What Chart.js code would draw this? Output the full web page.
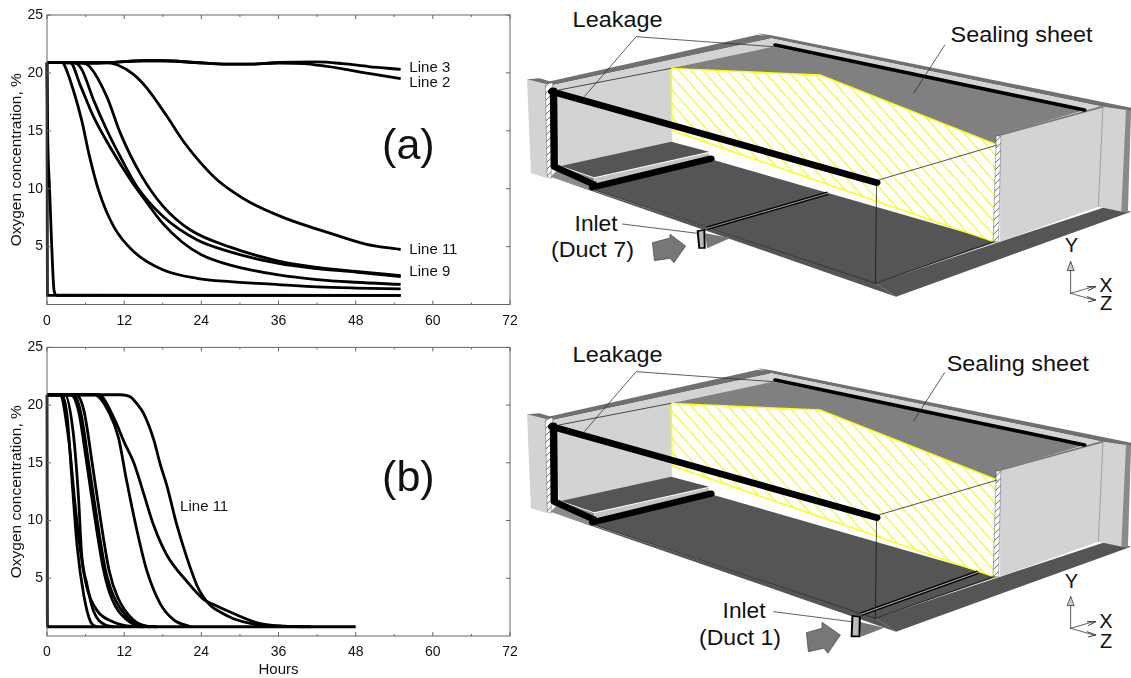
<!DOCTYPE html>
<html lang="en">
<head>
    <meta charset="UTF-8">
    <title>Oxygen concentration</title>
    <script src="https://cdn.jsdelivr.net/npm/chart.js"></script>
</head>
<style>
    html,body{margin:0;padding:0;background:#fff;overflow:hidden;width:1131px;height:678px;}
    canvas{position:absolute;left:0;}
    #chartA{top:0;}
    #chartB{top:335px;}
    #schemes{position:absolute;left:0;top:0;}
    #schemes text{font-family:"Liberation Sans",Arial,sans-serif;fill:#111;}
</style>
<body>
<svg id="schemes" width="1131" height="678" viewBox="0 0 1131 678">
    <defs>
        <pattern id="hatch" patternUnits="userSpaceOnUse" width="31" height="41">
            <rect width="31" height="41" fill="#fff"/>
            <path d="M0 0L31 41M-6 -8L6 8M25 33L37 49" stroke="#f0f000" stroke-width="2.6"/>
        </pattern>
        <pattern id="endHatch" patternUnits="userSpaceOnUse" width="18" height="21">
            <rect width="18" height="21" fill="#fff"/>
            <path d="M0 21L18 0M-4 5L4 -5M14 26L22 16" stroke="#333" stroke-width="2"/>
        </pattern>
        <g id="box">
            <polygon points="18,238 75,252 72,535 28,520" fill="#d3d3d3"/>
            <polygon points="18,238 50,235 82,246 75,254" fill="#707070"/>
            <polygon points="72,245 610,104 640,110 650,114 85,255" fill="#707070"/>
            <polygon points="610,100 645,106 1568,323 1568,336 1495,320 640,114" fill="#707070"/>
            <polygon points="640,114 1495,320 1450,334 650,142" fill="#d3d3d3"/>
            <polygon points="85,255 650,114 650,142 388,205 390,432 100,500" fill="#d3d3d3"/>
            <polygon points="388,205 650,140 1450,330 1232,405 1225,438 770,225" fill="#808080"/>
            <polygon points="78,530 190,572 912,850 965,890" fill="#555"/>
            <polygon points="78,530 105,500 190,535 190,572" fill="#8a8a8a"/>
            <polygon points="190,570 490,478 1225,725 912,850" fill="#555"/>
            <polygon points="105,498 388,425 485,455 190,532" fill="#555"/>
            <polygon points="190,535 485,458 485,472 195,552" fill="#c4c4c4"/>
            <polygon points="388,205 770,225 1225,435 1215,725 390,392" fill="url(#hatch)" stroke="#ffff00" stroke-width="4"/>
            <polygon points="912,850 965,890 1568,635 1510,618 1232,725" fill="#555"/>
            <polygon points="1232,405 1496,320 1484,620 1232,725" fill="#d3d3d3"/>
            <polygon points="1496,320 1557,330 1545,635 1484,620" fill="#d3d3d3"/>
            <polygon points="1555,328 1568,333 1560,638 1543,635" fill="#8a8a8a"/>
            <path d="M1232 405L1496 320" stroke="#777" stroke-width="5"/>
            <path d="M1496 320L1484 620" stroke="#888" stroke-width="2"/>
            <polygon points="1222,408 1234,408 1228,725 1214,725" fill="url(#endHatch)" stroke="#333" stroke-width="1"/>
            <polygon points="65,252 84,248 80,535 70,530" fill="url(#endHatch)" stroke="#333" stroke-width="1"/>
            <g fill="none" stroke="#111" stroke-width="2">
                <path d="M100 270L388 205M920 540L1225 435"/>
                <path d="M915 550L912 850L1215 725M190 570L912 850"/>
            </g>
            <g fill="none" stroke="#000" stroke-linecap="round">
                <path d="M82 275L915 548" stroke-width="20"/>
                <path d="M86 272L88 500L187 552" stroke-width="19" stroke-linejoin="round"/>
                <path d="M187 562L490 476" stroke-width="19"/>
                <path d="M187 545L187 568" stroke-width="18" stroke-linecap="butt"/>
                <path d="M655 135L1448 330" stroke-width="11"/>
            </g>
            <g fill="none" stroke="#222" stroke-width="2" stroke-linecap="round">
                <path d="M1413 880L1413 785M1413 880L1472 860M1413 880L1472 900"/>
            </g>
        </g>
    </defs>

    <g transform="translate(520,0) scale(0.3897,0.3333)">
        <use href="#box"/>
        <polygon points="475,700 540,714 480,745" fill="#777"/>
        <path d="M480 685L790 580" stroke="#000" stroke-width="11"/>
        <path d="M480 685L790 580" stroke="#999" stroke-width="3"/>
        <polygon points="456,693 473,690 474,744 460,744" fill="#bbb" stroke="#000" stroke-width="5"/>
        <polygon points="340,728 385,714 385,703 425,738 395,788 385,775 345,782" fill="#777" stroke="#444" stroke-width="2"/>
        <polygon points="1413,785 1404,812 1422,812" fill="#ccc" stroke="#222" stroke-width="2"/>
        <path d="M1455 860L1478 860L1458 872M1455 890L1478 900L1458 906" fill="none" stroke="#222" stroke-width="2.5"/>
        <g fill="none" stroke="#222" stroke-width="2">
            <path d="M165 290L298 110L650 140"/>
            <path d="M1090 135L1010 280"/>
            <path d="M262 672L455 700"/>
        </g>
    </g>
    <text x="572.6" y="27" font-size="22" textLength="90" lengthAdjust="spacingAndGlyphs">Leakage</text>
    <text x="950.6" y="42" font-size="22" textLength="142" lengthAdjust="spacingAndGlyphs">Sealing sheet</text>
    <text x="574.6" y="230.7" font-size="22" textLength="43" lengthAdjust="spacingAndGlyphs">Inlet</text>
    <text x="551" y="256.7" font-size="22" textLength="83" lengthAdjust="spacingAndGlyphs">(Duct 7)</text>
    <text x="1071.4" y="252" font-size="20" text-anchor="middle">Y</text>
    <text x="1106" y="292" font-size="20" text-anchor="middle">X</text>
    <text x="1106" y="310" font-size="20" text-anchor="middle">Z</text>

    <g transform="translate(520,335) scale(0.3897,0.3333)">
        <use href="#box"/>
        <polygon points="870,860 935,878 875,905" fill="#777"/>
        <path d="M875 838L1175 712" stroke="#000" stroke-width="11"/>
        <path d="M875 838L1175 712" stroke="#aaa" stroke-width="3"/>
        <polygon points="853,843 872,845 871,904 851,904" fill="#bbb" stroke="#000" stroke-width="5"/>
        <polygon points="735,893 775,880 775,862 822,900 790,955 780,940 740,950" fill="#777" stroke="#444" stroke-width="2"/>
        <polygon points="1413,785 1404,812 1422,812" fill="#ccc" stroke="#222" stroke-width="2"/>
        <path d="M1455 860L1478 860L1458 872M1455 890L1478 900L1458 906" fill="none" stroke="#222" stroke-width="2.5"/>
        <g fill="none" stroke="#222" stroke-width="2">
            <path d="M165 290L298 110L650 140"/>
            <path d="M1090 112L1010 258"/>
            <path d="M650 830L850 860"/>
        </g>
    </g>
    <text x="572.6" y="362" font-size="22" textLength="90" lengthAdjust="spacingAndGlyphs">Leakage</text>
    <text x="946.7" y="371" font-size="22" textLength="142" lengthAdjust="spacingAndGlyphs">Sealing sheet</text>
    <text x="722.6" y="618.3" font-size="22" textLength="43" lengthAdjust="spacingAndGlyphs">Inlet</text>
    <text x="699" y="645" font-size="22" textLength="82" lengthAdjust="spacingAndGlyphs">(Duct 1)</text>
    <text x="1071.4" y="588" font-size="20" text-anchor="middle">Y</text>
    <text x="1106" y="628" font-size="20" text-anchor="middle">X</text>
    <text x="1106" y="648" font-size="20" text-anchor="middle">Z</text>
</svg>
<canvas id="chartA" width="530" height="335"></canvas>
<canvas id="chartB" width="530" height="344"></canvas>
<script>
    // panel (a), [hours, oxygen %]
    const aLine3 = [[0,20.9],[6,20.85],[10,20.9],[15,21.05],[18,21.05],[23,20.9],[28,20.75],[31,20.75],[36,20.9],[42,20.95],[46,20.8],[50,20.55],[55,20.3]];
    const aLine2 = [[0,20.9],[6,20.85],[10,20.9],[15,21.05],[18,21.05],[23,20.9],[28,20.75],[31,20.75],[36,20.85],[40,20.8],[43,20.6],[46,20.35],[50,19.95],[55,19.5]];
    const aLine11 = [[0,20.9],[9,20.9],[10.9,20.7],[13.5,19.85],[15.5,18.7],[18.65,16.25],[21.2,14.1],[23.8,12.3],[26.4,10.8],[29,9.7],[31.6,8.8],[36.8,7.5],[44.6,6.05],[49.7,5.2],[55,4.75]];
    const aLineD = [[0,20.9],[5.2,20.9],[6.7,20.5],[9.3,17.95],[11.4,14.8],[14.5,11.3],[18.1,8.45],[22.3,6.43],[28.5,4.95],[36,3.75],[42,3.2],[48,2.85],[55,2.5]];
    const aLineC = [[0,20.9],[4.2,20.9],[5.4,20.3],[7.25,17.65],[9.3,15.07],[11.4,12.76],[14,10.17],[18.1,7.58],[23.3,5.6],[28.5,4.55],[36,3.55],[42,3.1],[48,2.8],[55,2.4]];
    const aLineE = [[0,20.9],[3.6,20.9],[5.2,18.9],[7.25,16.2],[9.8,13.6],[13,10.75],[15,9.2],[18,7.0],[21,5.4],[24,4.3],[28.5,3.4],[36,2.55],[42,2.15],[48,1.92],[55,1.73]];
    const aLineF = [[0,20.9],[2.4,20.9],[2.85,20.5],[4.1,18.5],[5.4,15.9],[6.5,13.05],[8,9.9],[10.4,6.7],[13.5,4.56],[18.1,2.98],[23.3,2.26],[28.5,1.97],[36,1.72],[42,1.52],[48,1.42],[55,1.35]];
    const aLineFast = [[0,20.9],[0.1,15],[0.4,10],[0.7,5.5],[1.1,1.2],[1.5,0.8],[55,0.78]];
    const aLineNow = [[0,20.9],[0.03,10],[0.06,0.8],[55,0.78]];

    // panel (b)
    const bLine11 = [[0,20.9],[11.4,20.9],[13,20.7],[14,20.1],[15,19.3],[16.6,17],[17.6,14.9],[18.65,13],[20.2,9.6],[21.8,6.7],[23.3,4.4],[24.3,3.4],[25.5,2.6],[27,2.05],[29,1.5],[32,1.05],[36,0.85],[40,0.8]];
    const bLine10 = [[0,20.9],[8,20.9],[10.4,18.9],[12,16.8],[13.5,15],[15,12.4],[16.6,9.57],[18.65,7],[21.8,4.7],[24.3,3.2],[26,2.7],[29,1.95],[33,1.1],[37,0.85],[41,0.8]];
    const bLine9 = [[0,20.9],[7.4,20.9],[9.8,19.2],[11.1,17.2],[12.4,13.4],[14,9.1],[15.5,5.7],[17.6,2.8],[19.7,1.4],[22.3,0.8]];
    const bLineG = [[0,20.9],[4.0,20.9],[5.2,19.5],[6.5,14.9],[7.8,10],[9.1,5.7],[10.4,3.4],[12.9,1.4],[15,0.85],[17,0.8]];
    const bLineH = [[0,20.9],[4.5,20.9],[5.75,19.5],[7.05,14.9],[8.35,10],[9.65,5.7],[10.95,3.4],[13.4,1.4],[15.5,0.85],[17,0.8]];
    const bLineI = [[0,20.9],[3.7,20.9],[4.9,19.5],[6.2,14.9],[7.5,10],[8.8,5.7],[10.1,3.2],[12.4,1.4],[14.6,0.85],[16,0.8]];
    const bLineJ = [[0,20.9],[2,20.9],[3.1,19.2],[3.9,13.4],[4.7,7.7],[5.7,3.6],[6.8,1.2],[7.8,0.8]];
    const bLineK = [[0,20.9],[2.8,20.9],[4.1,17.5],[4.9,12],[5.4,7],[6.2,4.5],[7.2,2.2],[9.1,0.95],[10.5,0.8]];
    const bLineL = [[0,20.9],[2,20.9],[3.4,16.9],[4.4,11.2],[5.2,7.4],[6.2,4.2],[7.8,2.2],[10.4,1.2],[12.9,0.85],[15,0.8]];
    const bLineNow = [[0,20.9],[0.03,10],[0.06,0.8],[48,0.8]];

    const seriesA = [aLine3, aLine2, aLine11, aLineD, aLineC, aLineE, aLineF, aLineFast, aLineNow];
    const seriesB = [bLine11, bLine10, bLine9, bLineG, bLineH, bLineI, bLineJ, bLineK, bLineL, bLineNow];

    const hourTicks = [0, 12, 24, 36, 48, 60, 72];
    const hourMinorTicks = [6, 18, 30, 42, 54, 66];
    const oxygenTicks = [5, 10, 15, 20, 25];

    const notesA = [['Line 3', 56.35, 20.45], ['Line 2', 56.35, 19.1], ['Line 11', 56.35, 4.7], ['Line 9', 56.35, 2.8]];
    const notesB = [['Line 11', 20.7, 11.2]];

    const frameColor = '#666';
    const font = '"Liberation Sans", Arial, sans-serif';

    // frame, inward ticks and the text notes inside the plot
    const framePlugin = {
        id: 'framePlugin',
        afterDatasetsDraw(c, args, opts) {
            const {left, right, top, bottom} = c.chartArea;
            const x = c.scales.x, y = c.scales.y, ctx = c.ctx;
            ctx.save();
            ctx.strokeStyle = frameColor;
            ctx.lineWidth = 1;
            ctx.strokeRect(left, top, right - left, bottom - top);
            ctx.beginPath();
            hourTicks.forEach(h => {
                const px = x.getPixelForValue(h);
                ctx.moveTo(px, bottom); ctx.lineTo(px, bottom - 4);
                ctx.moveTo(px, top); ctx.lineTo(px, top + 4);
            });
            hourMinorTicks.forEach(h => {
                const px = x.getPixelForValue(h);
                ctx.moveTo(px, bottom); ctx.lineTo(px, bottom - 2);
                ctx.moveTo(px, top); ctx.lineTo(px, top + 2);
            });
            oxygenTicks.forEach(v => {
                const py = y.getPixelForValue(v);
                ctx.moveTo(left, py); ctx.lineTo(left + 4, py);
                ctx.moveTo(right, py); ctx.lineTo(right - 4, py);
            });
            ctx.stroke();
            ctx.fillStyle = '#111';
            ctx.textBaseline = 'middle';
            ctx.textAlign = 'left';
            ctx.font = '15px ' + font;
            opts.notes.forEach(n => ctx.fillText(n[0], x.getPixelForValue(n[1]), y.getPixelForValue(n[2])));
            ctx.textAlign = 'center';
            ctx.font = '43px ' + font;
            ctx.fillText(opts.tag, x.getPixelForValue(56.2), y.getPixelForValue(13.6));
            ctx.restore();
        }
    };

    function makeChart(id, series, notes, tag, top, plotBottom, showHours) {
        return new Chart(document.getElementById(id), {
            type: 'line',
            plugins: [framePlugin],
            data: {
                datasets: series.map(s => ({
                    data: s.map(p => ({x: p[0], y: p[1]})),
                    borderColor: '#000',
                    borderWidth: 2.8,
                    pointRadius: 0,
                    clip: 4,
                    cubicInterpolationMode: 'monotone'
                }))
            },
            options: {
                responsive: false,
                animation: false,
                layout: {padding: {top: top, right: 20}},
                plugins: {
                    legend: {display: false},
                    tooltip: {enabled: false},
                    framePlugin: {notes: notes, tag: tag}
                },
                scales: {
                    x: {
                        type: 'linear', min: 0, max: 72,
                        afterFit: s => { s.height = plotBottom; },
                        afterBuildTicks: s => { s.ticks = hourTicks.map(v => ({value: v})); },
                        grid: {display: false, drawTicks: false},
                        border: {display: false},
                        ticks: {color: '#111', font: {family: font, size: 14}, padding: 8, maxRotation: 0, autoSkip: false},
                        title: {display: showHours, text: 'Hours', color: '#111', font: {family: font, size: 15}, padding: 0}
                    },
                    y: {
                        min: 0, max: 25,
                        afterFit: s => { s.width = 47; },
                        afterBuildTicks: s => { s.ticks = oxygenTicks.map(v => ({value: v})); },
                        grid: {display: false, drawTicks: false},
                        border: {display: false},
                        ticks: {color: '#111', font: {family: font, size: 14}, padding: 4},
                        title: {display: true, text: 'Oxygen concentration, %', color: '#111', font: {family: font, size: 15.5}, padding: {top: 7, bottom: 0}}
                    }
                }
            }
        });
    }

    makeChart('chartA', seriesA, notesA, '(a)', 15, 30.5, false);
    makeChart('chartB', seriesB, notesB, '(b)', 11, 43, true);
</script>
</body>
</html>
